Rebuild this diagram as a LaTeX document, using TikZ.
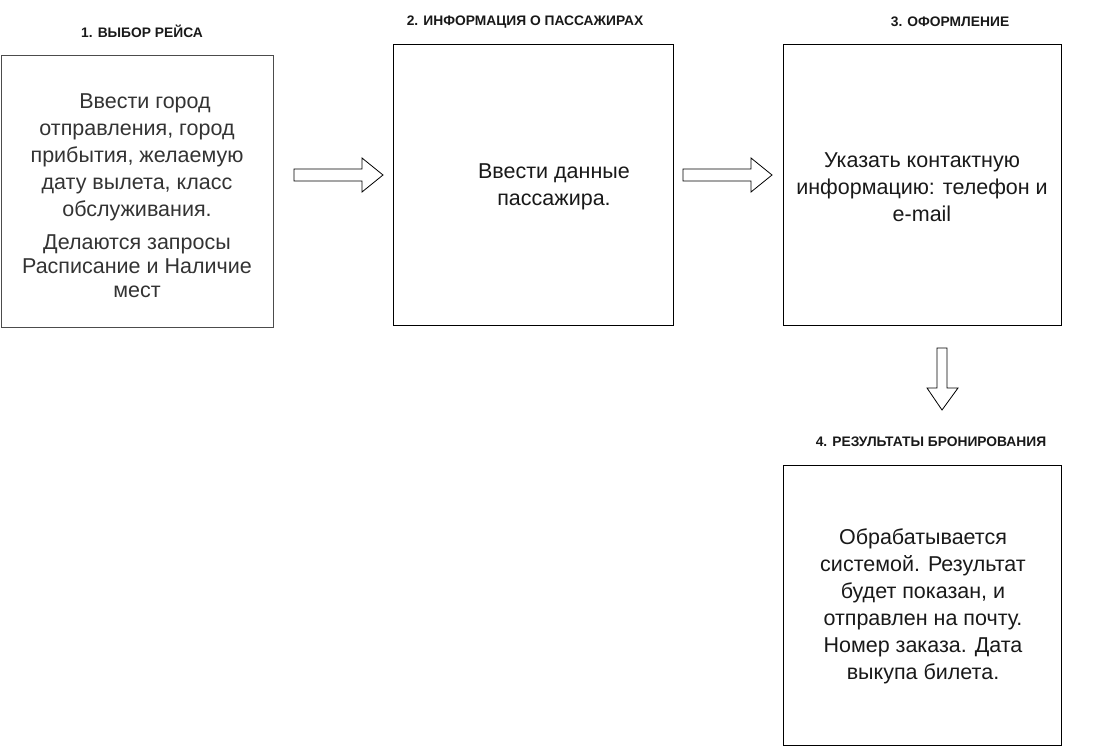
\documentclass[tikz,border=0pt]{standalone}
\usepackage{fontspec}
\setmainfont{Liberation Sans}[BoldFont={Liberation Sans Bold}]
\begin{document}
\begin{tikzpicture}[x=1pt,y=-1pt,
  box/.style={draw=black,line width=1pt,minimum width=#1,inner sep=0pt},
  title/.style={font=\bfseries\fontsize{13.8}{15}\selectfont,text=black!90,inner sep=0pt},
  body/.style={font=\fontsize{21.5}{27}\selectfont,align=center,inner sep=0pt,text=black!90},
  blockarrow/.style={draw=black,line width=0.8pt,fill=white,line join=miter}]
\useasboundingbox (0,0) rectangle (1114,746);
% boxes
\node[box=271.5pt,minimum height=271pt,draw=black!70] (b1) at (137.25,191.5) {};
\node[box=280pt,minimum height=280pt] (b2) at (533,185) {};
\node[box=278pt,minimum height=280pt] (b3) at (922,185) {};
\node[box=278pt,minimum height=280pt] (b4) at (922,605) {};
% titles
\node[title] (t1) at (142,31) {1. ВЫБОР РЕЙСА};
\node[title] (t2) at (525,22) {2. ИНФОРМАЦИЯ О ПАССАЖИРАХ};
\node[title] (t3) at (950,22) {3. ОФОРМЛЕНИЕ};
\node[title] (t4) at (931,442) {4. РЕЗУЛЬТАТЫ БРОНИРОВАНИЯ};
% texts
\node[body,text=black!80] (x1a) at (137,157) {\hspace*{16pt}Ввести город\\отправления, город\\прибытия, желаемую\\дату вылета, класс\\обслуживания.};
\node[body,text=black!80,font=\fontsize{21.5}{24}\selectfont] (x1b) at (137,266) {Делаются запросы\\Расписание и Наличие\\мест};
\node[body] (x2) at (554,187) {Ввести данные\\пассажира.};
\node[body] (x3) at (922,187) {Указать контактную\\информацию: телефон и\\e-mail};
\node[body] (x4) at (923,606) {Обрабатывается\\системой. Результат\\будет показан, и\\отправлен на почту.\\Номер заказа. Дата\\выкупа билета.};
% block arrows
\coordinate (a1) at (294,175);
\draw[blockarrow] (a1) ++(0,-6) -- ++(68,0) -- ++(0,-11) -- (383,175) -- (362,192) -- ++(0,-11) -- (294,181) -- cycle;
\coordinate (a2) at (683,175);
\draw[blockarrow] (a2) ++(0,-6) -- ++(68,0) -- ++(0,-11) -- (772,175) -- (751,192) -- ++(0,-11) -- (683,181) -- cycle;
\coordinate (a3) at (942,348);
\draw[blockarrow] (a3) ++(-5,0) -- ++(0,40) -- (927,388) -- (942,410) -- (958,388) -- (947,388) -- (947,348) -- cycle;
\end{tikzpicture}
\end{document}
